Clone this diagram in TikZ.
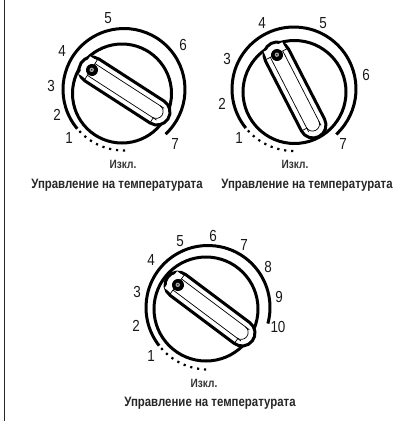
\documentclass[tikz,border=0pt]{standalone}
\usepackage{fontspec}
\setmainfont{Liberation Sans}
\newfontfamily\condfont[FakeStretch=0.84]{Liberation Sans}
\usetikzlibrary{calc}
\tikzset{
  numlabel/.style={font=\condfont\fontsize{16}{17}\selectfont,text=black!90,inner sep=0pt},
  offlabel/.style={font=\condfont\bfseries\fontsize{12}{13}\selectfont,text=black!80,inner sep=0pt},
  titlelabel/.style={font=\condfont\bfseries\fontsize{13.6}{14}\selectfont,text=black!85,inner sep=0pt},
  thickline/.style={line width=3pt,black},
  thinline/.style={line width=0.7pt,black},
  dotline/.style={line width=2.2pt,black,dash pattern=on 2.2pt off 4.8pt},
}
% #1 inner centre, #2 inner r, #3 outer centre, #4 outer r, #5 outer start angle, #6 outer end angle, #7 dots end angle, #8 A, #9 B
\newcommand{\knobdraw}[9]{%
  \draw[thickline] #1 circle (#2pt);
  \draw[thickline] ($#3+(#5:#4pt)$) arc[start angle=#5,end angle=#6,radius=#4pt];
  \draw[dotline] ($#3+(#5+3:#4pt)$) arc[start angle=#5+3,end angle=#7,radius=#4pt];
  \path let \p1=#8,\p2=#9,\n1={atan2(\y2-\y1,\x2-\x1)} in
    coordinate (A) at #8 coordinate (B) at #9
    \pgfextra{\xdef\axang{\n1}};
  \begin{scope}[shift={#8},rotate=\axang]
    \path let \p1=($#9-#8$),\n1={veclen(\x1,\y1)} in \pgfextra{\xdef\axlen{\n1}};
    \draw[thickline,fill=white] (0pt,13pt) -- (\axlen,13pt) arc[start angle=90,end angle=-90,radius=13pt] -- (0pt,-13pt) arc[start angle=270,end angle=90,radius=13pt] -- cycle;
    \draw[thinline] (\axlen+4pt,-7pt) -- (-1pt,-7pt) (\axlen+4pt,7pt) -- (-1pt,7pt);
    \draw[thinline] (\axlen+0pt,-12pt) -- (\axlen+0pt,-7pt) ;
    \draw[thinline] (\axlen-1pt,7pt) arc[start angle=90,end angle=-90,radius=7pt];
    \draw[thinline] (-1pt,-12pt) -- (-1pt,12pt);
    \fill[white] (-9pt,-10.5pt) rectangle (-2pt,10.5pt);
    \fill (0pt,0pt) circle (6pt);
    \fill[black!35] (-0.3pt,0pt) circle (2.2pt);
    \fill (-0.3pt,0pt) circle (0.8pt);
  \end{scope}
}
\begin{document}
\begin{tikzpicture}[x=1pt,y=-1pt]
\useasboundingbox (0,0) rectangle (405,421);
\draw[line width=1.6pt,black!85] (4.5,0) -- (4.5,421);

\knobdraw{(122,93.5)}{49.5}{(124,89.5)}{61}{220}{-47}{272}{(92,70)}{(157,112)}
\knobdraw{(294.5,92)}{51.5}{(294,89)}{62}{219}{-47}{270}{(277,55)}{(313,125)}
\knobdraw{(206,309)}{52}{(208,307.5)}{62}{218}{-15}{270}{(178,285)}{(242,333)}

\node[numlabel] (a5) at (108,18) {5};
\node[numlabel] (a6) at (183,45) {6};
\node[numlabel] (a4) at (62,51) {4};
\node[numlabel] (a3) at (51,86) {3};
\node[numlabel] (a2) at (57,115) {2};
\node[numlabel] (a1) at (69,138) {1};
\node[numlabel] (a7) at (175,144) {7};
\node[offlabel] (aoff) at (123,164) {Изкл.};
\node[titlelabel] (atitle) at (117,185) {Управление на температурата};

\node[numlabel] (b4) at (262,23) {4};
\node[numlabel] (b5) at (323,23) {5};
\node[numlabel] (b3) at (227,59) {3};
\node[numlabel] (b6) at (366,75) {6};
\node[numlabel] (b2) at (222,104) {2};
\node[numlabel] (b1) at (239,138) {1};
\node[numlabel] (b7) at (343,144) {7};
\node[offlabel] (boff) at (295,164) {Изкл.};
\node[titlelabel] (btitle) at (307,185) {Управление на температурата};

\node[numlabel] (c6) at (213,236) {6};
\node[numlabel] (c5) at (180,241) {5};
\node[numlabel] (c7) at (244,245) {7};
\node[numlabel] (c4) at (151,260) {4};
\node[numlabel] (c8) at (268,267) {8};
\node[numlabel] (c3) at (137,292) {3};
\node[numlabel] (c9) at (279,297) {9};
\node[numlabel] (c2) at (136,326) {2};
\node[numlabel] (c10) at (278,327) {10};
\node[numlabel] (c1) at (151,356) {1};
\node[offlabel] (coff) at (204,383) {Изкл.};
\node[titlelabel] (ctitle) at (210,403) {Управление на температурата};
\end{tikzpicture}
\end{document}
